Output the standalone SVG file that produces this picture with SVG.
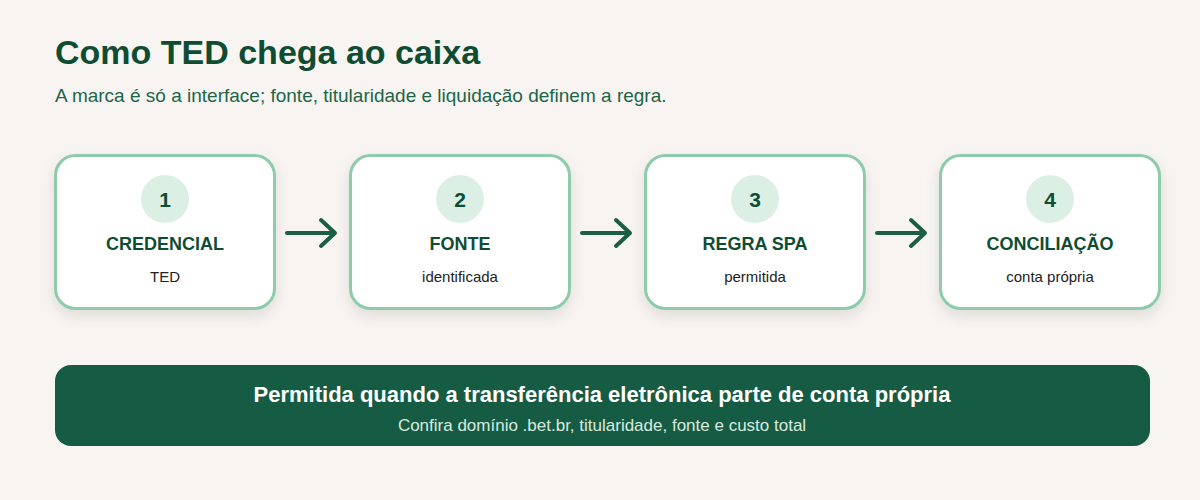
<svg xmlns="http://www.w3.org/2000/svg" width="1200" height="500" viewBox="0 0 1200 500">
<style>
.card{fill:#ffffff;stroke:#8ecbab;stroke-width:3}
.badge{fill:#dcefe5}
.num{font-family:"Liberation Sans",Arial,sans-serif;font-size:21px;font-weight:bold;fill:#0f4d33;text-anchor:middle}
.ttl{font-family:"Liberation Sans",Arial,sans-serif;font-size:18px;font-weight:bold;fill:#0f4d33;text-anchor:middle}
.sub{font-family:"Liberation Sans",Arial,sans-serif;font-size:15px;fill:#222;text-anchor:middle}
.conn{stroke:#1b5e44;stroke-width:4;stroke-linecap:round;stroke-linejoin:round;fill:none}
</style>
<defs>
<filter id="sh" x="-20%" y="-20%" width="140%" height="150%">
<feDropShadow dx="0" dy="6" stdDeviation="7" flood-color="#000" flood-opacity="0.10"/>
</filter>
</defs>
<rect width="1200" height="500" fill="#f7f4f1"/>
<text x="55" y="64" font-family="'Liberation Sans',Arial,sans-serif" font-size="34" font-weight="bold" fill="#0f4d33">Como TED chega ao caixa</text>
<text x="55" y="102" font-family="'Liberation Sans',Arial,sans-serif" font-size="19" fill="#1d6548">A marca é só a interface; fonte, titularidade e liquidação definem a regra.</text>
<g id="node1">
<rect class="card" x="55.5" y="155.5" width="219" height="153" rx="20" filter="url(#sh)"/>
<circle class="badge" cx="165" cy="199" r="24"/>
<text class="num" x="165" y="207">1</text>
<text class="ttl" x="165" y="250">CREDENCIAL</text>
<text class="sub" x="165" y="282">TED</text>
</g>
<g id="node2">
<rect class="card" x="350.5" y="155.5" width="219" height="153" rx="20" filter="url(#sh)"/>
<circle class="badge" cx="460" cy="199" r="24"/>
<text class="num" x="460" y="207">2</text>
<text class="ttl" x="460" y="250">FONTE</text>
<text class="sub" x="460" y="282">identificada</text>
</g>
<g id="node3">
<rect class="card" x="645.5" y="155.5" width="219" height="153" rx="20" filter="url(#sh)"/>
<circle class="badge" cx="755" cy="199" r="24"/>
<text class="num" x="755" y="207">3</text>
<text class="ttl" x="755" y="250">REGRA SPA</text>
<text class="sub" x="755" y="282">permitida</text>
</g>
<g id="node4">
<rect class="card" x="940.5" y="155.5" width="219" height="153" rx="20" filter="url(#sh)"/>
<circle class="badge" cx="1050" cy="199" r="24"/>
<text class="num" x="1050" y="207">4</text>
<text class="ttl" x="1050" y="250">CONCILIAÇÃO</text>
<text class="sub" x="1050" y="282">conta própria</text>
</g>
<g id="connectors">
<path class="conn" d="M287 233 H334 M321 220 L335 233 L321 246"/>
<path class="conn" d="M582 233 H629 M616 220 L630 233 L616 246"/>
<path class="conn" d="M877 233 H924 M911 220 L925 233 L911 246"/>
</g>
<g id="banner">
<rect x="55" y="365" width="1095" height="81" rx="16" fill="#165c45"/>
<text x="602" y="402" text-anchor="middle" font-family="'Liberation Sans',Arial,sans-serif" font-size="22" font-weight="bold" fill="#ffffff">Permitida quando a transferência eletrônica parte de conta própria</text>
<text x="602" y="431" text-anchor="middle" font-family="'Liberation Sans',Arial,sans-serif" font-size="17" fill="#d6eadf">Confira domínio .bet.br, titularidade, fonte e custo total</text>
</g>
</svg>
